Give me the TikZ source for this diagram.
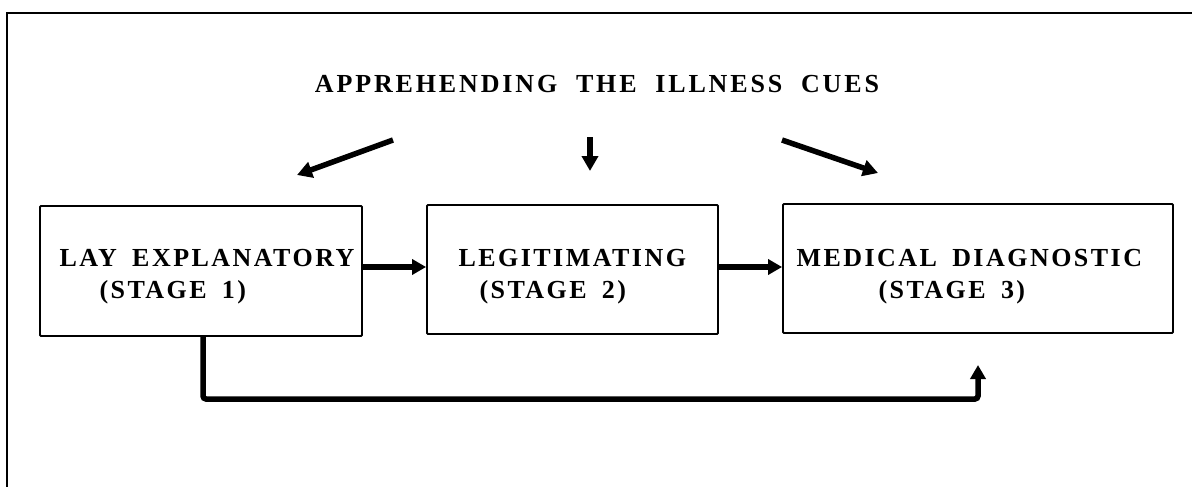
\documentclass[tikz,border=0pt]{standalone}
\usepackage{fontspec}
\setmainfont{Liberation Serif}[BoldFont={* Bold}]
\newfontfamily\capsfont{Liberation Serif Bold}[LetterSpace=9.5, WordSpace=1.7]
\newfontfamily\headfont{Liberation Serif Bold}[LetterSpace=11, WordSpace=2]
\usetikzlibrary{arrows.meta}
\tikzset{
  stagebox/.style={draw, line width=1.8pt, rounded corners=1pt, inner sep=0pt},
  lbl/.style={font=\capsfont\fontsize{26}{32}\selectfont, align=left, anchor=west},
  flow/.style={line width=5.5pt, -{Triangle[length=14pt,width=15pt]}},
  cue/.style={line width=5.5pt, -{Triangle[length=15pt,width=16pt]}},
  frameline/.style={line width=1.2pt}
}
\begin{document}
\begin{tikzpicture}[x=1pt,y=-1pt]
\useasboundingbox (0,0) rectangle (1192,487);
% page frame: top and left rules
\coordinate (fl) at (7,487);
\coordinate (ftl) at (7,13);
\coordinate (ftr) at (1192,13);
\draw[frameline] (fl) -- (ftl) -- (ftr);

% title
\node[font=\headfont\fontsize{26}{30}\selectfont] (title) at (597,84) {APPREHENDING THE ILLNESS CUES};

% stage boxes
\node[stagebox, minimum width=322pt, minimum height=130pt] (s1) at (201,271) {};
\node[stagebox, minimum width=291pt, minimum height=129pt] (s2) at (572.5,269.5) {};
\node[stagebox, minimum width=390pt, minimum height=129pt] (s3) at (978,268.5) {};

\node[lbl] (t1) at (56,277) {LAY EXPLANATORY\\\hspace*{40pt}(STAGE 1)};
\node[lbl] (t2) at (455,277) {LEGITIMATING\\\hspace*{21pt}(STAGE 2)};
\node[lbl] (t3) at (793,277) {MEDICAL DIAGNOSTIC\\\hspace*{82pt}(STAGE 3)};

% cue arrows
\coordinate (c1a) at (393,140);
\coordinate (c1b) at (297,175);
\coordinate (c2a) at (590,137);
\coordinate (c2b) at (590,171);
\coordinate (c3a) at (782,140);
\coordinate (c3b) at (878,173);
\draw[cue] (c1a) -- (c1b);
\draw[cue] (c2a) -- (c2b);
\draw[cue] (c3a) -- (c3b);

% stage-to-stage arrows
\draw[flow] (s1.east |- 0,267) -- (s2.west |- 0,267);
\draw[flow] (s2.east |- 0,267) -- (s3.west |- 0,267);

% bypass from stage 1 to stage 3
\coordinate (bp) at (978,365);
\draw[flow, rounded corners=3pt] (s1.south -| 203,0) |- (bp |- 0,399) -- (bp);
\end{tikzpicture}
\end{document}
